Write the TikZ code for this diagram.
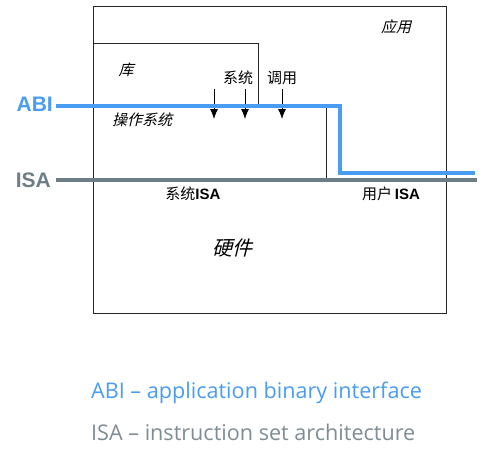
\documentclass[tikz,border=0pt]{standalone}
\usepackage{fontspec}
\setmainfont{Liberation Sans}
\newfontfamily\cjk{Noto Sans CJK SC}
\newfontfamily\cjkit[FakeSlant=0.25]{Noto Sans CJK SC}
\newfontfamily\legendfont{Open Sans}
\usetikzlibrary{positioning,arrows.meta}
\definecolor{abiblue}{HTML}{4A9CF2}
\definecolor{isagray}{HTML}{6E7E86}
\definecolor{legendgray}{HTML}{7E8C94}

\begin{document}
\begin{tikzpicture}[x=1pt,y=-1pt]
    \tikzstyle{frame}=[draw=black!85,line width=0.8pt]
    \tikzstyle{inv}=[inner sep=0]
    \tikzstyle{cjklbl}=[inner sep=0,font=\cjk\fontsize{15}{15}\selectfont]
    \tikzstyle{cjkslant}=[inner sep=0,font=\cjkit\fontsize{15}{15}\selectfont]
    \tikzstyle{biglbl}=[inner sep=0,font=\bfseries\fontsize{21}{21}\selectfont]
    \tikzstyle{call}=[-{Latex[length=10pt,width=8pt]},line width=0.8pt]
    \useasboundingbox (0,0) rectangle (488,458);
    % boxes
    \draw[frame] (93,6) rectangle (446,313);
    \draw[frame] (93,43) -- (258,43) -- (258,106);
    \draw[frame] (326,106) -- (326,180);
    % labels
    \node[cjkslant] (app) at (396,27) {应用};
    \node[cjkslant] (lib) at (126,70) {库};
    \node[cjklbl] (sys) at (238,78) {系统};
    \node[cjklbl] (callw) at (282,78) {调用};
    \node[cjkslant] (os) at (142,120) {操作系统};
    \node[inv] (sysisa) at (193,194) {{\cjk\fontsize{15}{15}\selectfont 系统}\bfseries\fontsize{15}{15}\selectfont ISA};
    \node[inv] (userisa) at (391,194) {{\cjk\fontsize{15}{15}\selectfont 用户} \bfseries\fontsize{15}{15}\selectfont ISA};
    \node[inv,font=\cjkit\fontsize{20}{20}\selectfont] (hw) at (232,248) {硬件};
    % system calls
    \coordinate (c1) at (214,89); \coordinate (c1e) at (214,119);
    \coordinate (c2) at (245,89); \coordinate (c2e) at (245,119);
    \coordinate (c3) at (282,89); \coordinate (c3e) at (282,119);
    \draw[call] (c1) -- (c1e);
    \draw[call] (c2) -- (c2e);
    \draw[call] (c3) -- (c3e);
    % interface lines
    \node[biglbl,text=abiblue,anchor=east] (abi) at (53,104) {ABI};
    \node[biglbl,text=isagray,anchor=east] (isa) at (51,180) {ISA};
    \coordinate (abistep) at (340,106);
    \coordinate (abilow) at (340,173);
    \coordinate (abiend) at (475,173);
    \coordinate (isaend) at (477,180);
    \draw[isagray,line width=4pt] (isa.east) ++(5,0) coordinate (isastart) -- (isaend);
    \draw[abiblue,line width=4pt] (abi.east) ++(3,2) coordinate (abistart) -- (abistep) -- (abilow) -- (abiend);
    % legend
    \node[inv,anchor=west,text=abiblue,font=\legendfont\fontsize{21.6}{21.6}\selectfont] (legabi) at (91,393) {ABI \textendash{} application binary interface};
    \node[inv,anchor=west,text=legendgray,font=\legendfont\fontsize{21.6}{21.6}\selectfont] (legisa) at (91,432) {ISA \textendash{} instruction set architecture};
\end{tikzpicture}
\end{document}
